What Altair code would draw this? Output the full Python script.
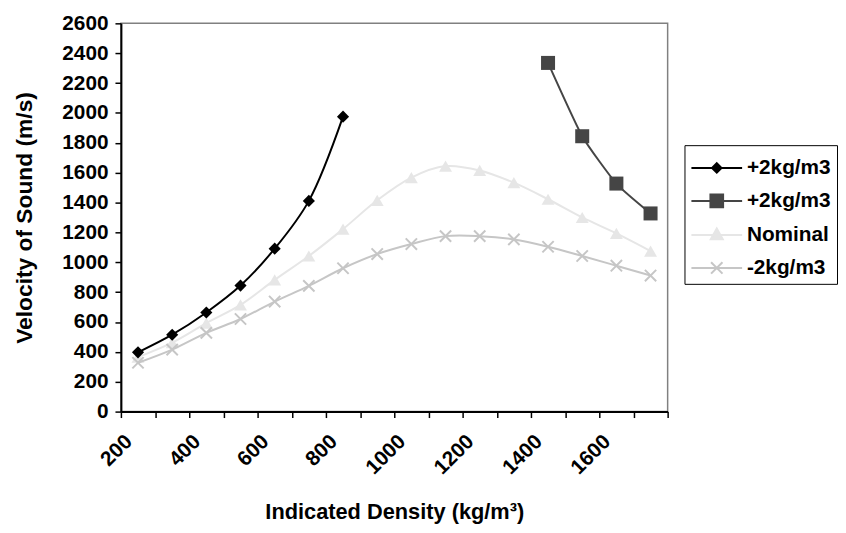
import altair as alt
import pandas as pd

# ---- data ----
series_keys = ["a", "b", "c", "d"]
series_labels = ["+2kg/m3", "+2kg/m3", "Nominal", "-2kg/m3"]
series_colors = ["#000000", "#454545", "#e6e6e6", "#c6c6c6"]

density_a = [250, 350, 450, 550, 650, 750, 850]
velocity_a = [397, 515, 664, 844, 1091, 1411, 1975]

density_b = [1450, 1550, 1650, 1750]
velocity_b = [2335, 1844, 1527, 1327]

density_nom = [250, 350, 450, 550, 650, 750, 850, 950, 1050, 1150, 1250, 1350, 1450, 1550, 1650, 1750]
velocity_nom = [365, 462, 593, 715, 882, 1042, 1222, 1415, 1567, 1644, 1615, 1533, 1422, 1300, 1193, 1075]

density_m2 = [250, 350, 450, 550, 650, 750, 850, 950, 1050, 1150, 1250, 1350, 1450, 1550, 1650, 1750]
velocity_m2 = [327, 415, 527, 620, 737, 842, 960, 1055, 1122, 1175, 1175, 1153, 1104, 1042, 977, 911]

x_tick_values = [200, 300, 400, 500, 600, 700, 800, 900, 1000, 1100, 1200, 1300, 1400, 1500, 1600, 1700, 1800]
x_label_values = [200, 400, 600, 800, 1000, 1200, 1400, 1600]
y_tick_values = [0, 200, 400, 600, 800, 1000, 1200, 1400, 1600, 1800, 2000, 2200, 2400, 2600]

rows = []
for key, xs, ys in [("a", density_a, velocity_a), ("b", density_b, velocity_b),
                    ("c", density_nom, velocity_nom), ("d", density_m2, velocity_m2)]:
    for x, y in zip(xs, ys):
        rows.append({"series": key, "density": x, "velocity": y})
df = pd.DataFrame(rows)

FONT = "Liberation Sans"

label_in = " || ".join(f"datum.value == {v}" for v in x_label_values)
x_label_expr = f"({label_in}) ? datum.label : ''"
legend_label_expr = ""
for k, lab in zip(series_keys, series_labels):
    legend_label_expr += f"datum.value == '{k}' ? '{lab}' : "
legend_label_expr += "''"

x_enc = alt.X(
    "density:Q",
    scale=alt.Scale(domain=[200, 1800], nice=False, zero=False),
    axis=alt.Axis(
        title="Indicated Density (kg/m³)",
        values=x_tick_values,
        labelExpr=x_label_expr,
        format="d",
        labelAngle=-45,
        labelOverlap=False,
        labelFlush=False,
        grid=False,
        tickSize=6,
        labelPadding=13,
        titlePadding=24,
    ),
)
y_enc = alt.Y(
    "velocity:Q",
    scale=alt.Scale(domain=[0, 2600], nice=False),
    axis=alt.Axis(
        title="Velocity of Sound (m/s)",
        values=y_tick_values,
        format="d",
        grid=False,
        tickSize=6,
        labelPadding=7,
        titlePadding=26,
    ),
)

marker_specs = {
    "a": dict(shape="diamond", size=150, filled=True),
    "b": dict(shape="square", size=200, filled=True),
    "c": dict(shape="triangle-up", size=170, filled=True),
    "d": dict(shape="M-1,-1L1,1M-1,1L1,-1", size=130, filled=False, strokeWidth=2),
}
line_interp = {
    "a": dict(interpolate="catmull-rom"),
    "b": dict(interpolate="cardinal", tension=0.5),
    "c": dict(interpolate="catmull-rom"),
    "d": dict(interpolate="catmull-rom"),
}

layers = []
for key in ["c", "d", "b", "a"]:
    col = series_colors[series_keys.index(key)]
    base = alt.Chart(df).transform_filter(alt.datum.series == key)
    line = base.mark_line(color=col, strokeWidth=2, **line_interp[key]).encode(
        x=x_enc, y=y_enc
    )
    pt = base.mark_point(color=col, opacity=1, **marker_specs[key]).encode(x=x_enc, y=y_enc)
    layers += [line, pt]

legend_shapes = [
    "M-1,0H2.2M0.6,-0.3L0.9,0L0.6,0.3L0.3,0Z",
    "M-1,0H2.2M0.2,-0.4H1V0.4H0.2Z",
    "M-1,0H2.2M0.6,-0.4L0.98,0.28H0.22Z",
    "M-1,0H2.2M0.24,-0.36L0.96,0.36M0.24,0.36L0.96,-0.36",
]

legend_common = dict(
    title=None,
    orient="none",
    legendX=569,
    legendY=123,
    labelExpr=legend_label_expr,
    labelFont=FONT,
    labelFontSize=21,
    labelFontWeight="bold",
    labelColor="#000000",
    strokeColor="#000000",
    fillColor="#ffffff",
    padding=6,
    rowPadding=6.3,
    labelOffset=23,
    symbolStrokeWidth=2,
    symbolSize=1024,
)

legend_layer = alt.Chart(df).transform_filter("false").mark_point(size=1024, opacity=1, strokeWidth=2).encode(
    x=x_enc,
    y=y_enc,
    fill=alt.Fill("series:N", scale=alt.Scale(domain=series_keys, range=series_colors),
                  legend=alt.Legend(**legend_common)),
    stroke=alt.Stroke("series:N", scale=alt.Scale(domain=series_keys, range=series_colors),
                      legend=alt.Legend(**legend_common)),
    shape=alt.Shape("series:N", scale=alt.Scale(domain=series_keys, range=legend_shapes),
                    legend=alt.Legend(**legend_common)),
)

chart = alt.layer(*layers, legend_layer).properties(
    width=552,
    height=392,
    padding={"left": 5, "top": 2, "right": 0, "bottom": 0},
).configure_view(
    stroke="#808080", strokeWidth=1.5
).configure_axis(
    domainColor="#000000",
    domainWidth=2,
    tickColor="#000000",
    tickWidth=1.5,
    labelFont=FONT,
    labelFontSize=21,
    labelFontWeight="bold",
    labelColor="#000000",
    titleFont=FONT,
    titleFontSize=22,
    titleFontWeight="bold",
    titleColor="#000000",
).configure_axisY(
    titleFontSize=23
)

chart.save("out.html", embed_options={"renderer": "svg", "actions": False})
